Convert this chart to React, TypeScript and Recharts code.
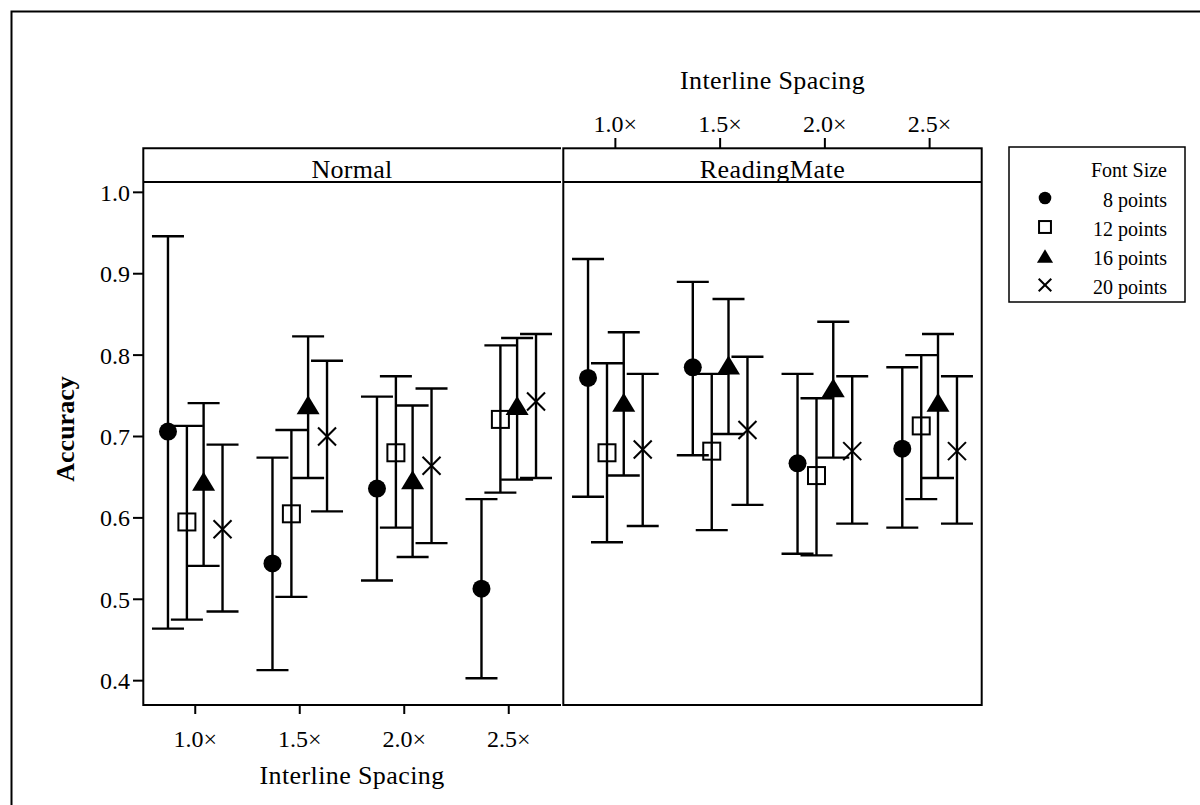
import React from "react";
import { ComposedChart, Scatter, ErrorBar, XAxis, YAxis } from "recharts";

const FONT = "'Liberation Serif', 'Times New Roman', serif";

const spacingLabels = ["1.0×", "1.5×", "2.0×", "2.5×"];
const sizeLabels = ["8 points", "12 points", "16 points", "20 points"];
const accuracyTicks = [0.4, 0.5, 0.6, 0.7, 0.8, 0.9, 1.0];

// [mean, lower, upper] for each interline spacing
const normal8 = [[0.706, 0.464, 0.946], [0.544, 0.413, 0.674], [0.636, 0.523, 0.749], [0.513, 0.403, 0.623]];
const normal12 = [[0.595, 0.475, 0.713], [0.605, 0.503, 0.708], [0.68, 0.588, 0.774], [0.721, 0.631, 0.812]];
const normal16 = [[0.645, 0.541, 0.741], [0.739, 0.649, 0.823], [0.647, 0.552, 0.738], [0.738, 0.647, 0.821]];
const normal20 = [[0.586, 0.485, 0.69], [0.7, 0.608, 0.793], [0.664, 0.569, 0.759], [0.743, 0.649, 0.826]];

const mate8 = [[0.772, 0.626, 0.918], [0.785, 0.677, 0.89], [0.667, 0.556, 0.777], [0.685, 0.588, 0.785]];
const mate12 = [[0.68, 0.57, 0.79], [0.682, 0.585, 0.777], [0.652, 0.554, 0.747], [0.713, 0.623, 0.8]];
const mate16 = [[0.742, 0.652, 0.828], [0.788, 0.703, 0.869], [0.76, 0.674, 0.841], [0.742, 0.649, 0.826]];
const mate20 = [[0.684, 0.59, 0.777], [0.708, 0.616, 0.798], [0.682, 0.593, 0.774], [0.682, 0.593, 0.774]];

const markerKinds = ["circle", "square", "triangle", "cross"];
const dodge = [-0.261, -0.08, 0.08, 0.261];
const yDomain = [0.3701, 1.0127];

function toPoints(rows: number[][], s: number) {
  return rows.map(([m, lo, hi], i) => ({ x: i + 1 + dodge[s], y: m, err: [m - lo, hi - m] }));
}

function Marker({ kind, cx, cy, k = 1 }: { kind: string; cx: number; cy: number; k?: number }) {
  if (kind === "circle") return <circle cx={cx} cy={cy} r={9 * k} fill="#000" />;
  if (kind === "square") {
    const h = 8.5 * k;
    return <rect x={cx - h} y={cy - h} width={2 * h} height={2 * h} fill="none" stroke="#000" strokeWidth={2} />;
  }
  if (kind === "triangle") {
    const w = 11.5 * k;
    const h = 9.5 * k;
    return <polygon points={`${cx},${cy - h} ${cx + w},${cy + h} ${cx - w},${cy + h}`} fill="#000" />;
  }
  const d = 9 * k;
  return (
    <g stroke="#000" strokeWidth={2}>
      <line x1={cx - d} y1={cy - d} x2={cx + d} y2={cy + d} />
      <line x1={cx - d} y1={cy + d} x2={cx + d} y2={cy - d} />
    </g>
  );
}

function Series(rows: number[][], s: number) {
  return (
    <Scatter
      key={s}
      data={toPoints(rows, s)}
      isAnimationActive={false}
      shape={(p: any) => <Marker kind={markerKinds[s]} cx={p.cx} cy={p.cy} />}
    >
      <ErrorBar dataKey="err" direction="y" width={16} stroke="#000" strokeWidth={2.4} />
    </Scatter>
  );
}

function TopTick(props: any) {
  const { x, y, payload } = props;
  return (
    <g>
      <line x1={x} x2={x} y1={y - 34} y2={y - 44} stroke="#000" strokeWidth={2} />
      <text x={x} y={y - 50} textAnchor="middle" fontSize={24} fontFamily={FONT} fill="#000">
        {spacingLabels[payload.value - 1]}
      </text>
    </g>
  );
}

const tickStyle = { fill: "#000", fontSize: 24, fontFamily: FONT };
const tickLineStyle = { stroke: "#000", strokeWidth: 2 };

export default function App() {
  return (
    <div style={{ position: "absolute", left: 0, top: 0, width: 1200, height: 805, background: "#fff", overflow: "hidden" }}>
      <div style={{ position: "absolute", left: 0, top: 0 }}>
        <ComposedChart width={1200} height={805} margin={{ top: 182, right: 639, bottom: 0, left: 0 }}>
          <XAxis
            type="number"
            dataKey="x"
            domain={[0.5, 4.5]}
            ticks={[1, 2, 3, 4]}
            interval={0}
            allowDataOverflow
            tickFormatter={(v) => spacingLabels[v - 1]}
            height={100}
            tickSize={9}
            tickMargin={16}
            axisLine={false}
            tickLine={tickLineStyle}
            tick={tickStyle}
            label={{ value: "Interline Spacing", position: "insideBottom", offset: 21, fill: "#000", fontSize: 26, fontFamily: FONT, letterSpacing: 0.4 }}
          />
          <YAxis
            type="number"
            dataKey="y"
            domain={yDomain}
            ticks={accuracyTicks}
            interval={0}
            allowDataOverflow
            tickFormatter={(v) => v.toFixed(1)}
            width={143}
            tickSize={10}
            tickMargin={3}
            axisLine={false}
            tickLine={tickLineStyle}
            tick={tickStyle}
            label={{
              content: () => (
                <text
                  x={65}
                  y={429}
                  transform="rotate(-90, 65, 429)"
                  textAnchor="middle"
                  dominantBaseline="central"
                  fontSize={26}
                  fontWeight="bold"
                  fontFamily={FONT}
                  fill="#000"
                >
                  Accuracy
                </text>
              ),
            }}
          />
          {[normal8, normal12, normal16, normal20].map((rows, s) => Series(rows, s))}
        </ComposedChart>
      </div>

      <div style={{ position: "absolute", left: 0, top: 0 }}>
        <ComposedChart width={1200} height={805} margin={{ top: 64, right: 218, bottom: 100, left: 563 }}>
          <XAxis
            type="number"
            dataKey="x"
            orientation="top"
            domain={[0.5, 4.5]}
            ticks={[1, 2, 3, 4]}
            interval={0}
            allowDataOverflow
            height={118}
            tickSize={0}
            tickMargin={0}
            axisLine={false}
            tickLine={false}
            tick={<TopTick />}
            label={{ value: "Interline Spacing", position: "insideTop", offset: 7, fill: "#000", fontSize: 26, fontFamily: FONT, letterSpacing: 0.4 }}
          />
          <YAxis type="number" dataKey="y" domain={yDomain} allowDataOverflow hide />
          {[mate8, mate12, mate16, mate20].map((rows, s) => Series(rows, s))}
        </ComposedChart>
      </div>

      <svg width={1200} height={805} style={{ position: "absolute", left: 0, top: 0, pointerEvents: "none" }}>
        <rect x={11.5} y={11.5} width={1300} height={900} fill="none" stroke="#000" strokeWidth={2} />
        <path d="M561,148.3 H143.3 V705 H561" fill="none" stroke="#000" strokeWidth={2} />
        <line x1={143.3} x2={561} y1={182} y2={182} stroke="#000" strokeWidth={2} />
        <rect x={563.3} y={148.3} width={418.4} height={556.7} fill="none" stroke="#000" strokeWidth={2} />
        <line x1={563.3} x2={981.7} y1={182} y2={182} stroke="#000" strokeWidth={2} />
        <text x={352} y={178} textAnchor="middle" fontSize={26} fontFamily={FONT} letterSpacing={0.3} fill="#000">
          Normal
        </text>
        <text x={772.5} y={178} textAnchor="middle" fontSize={26} fontFamily={FONT} letterSpacing={0.5} fill="#000">
          ReadingMate
        </text>

        <rect x={1009} y={147} width={176} height={155} fill="#fff" stroke="#000" strokeWidth={1.5} />
        <text x={1167} y={177} textAnchor="end" fontSize={20} fontFamily={FONT} fill="#000">
          Font Size
        </text>
        {sizeLabels.map((label, i) => (
          <g key={label}>
            <Marker kind={markerKinds[i]} cx={1045} cy={198 + i * 29} k={0.7} />
            <text x={1167} y={206.5 + i * 29} textAnchor="end" fontSize={20} fontFamily={FONT} fill="#000">
              {label}
            </text>
          </g>
        ))}
      </svg>
    </div>
  );
}
